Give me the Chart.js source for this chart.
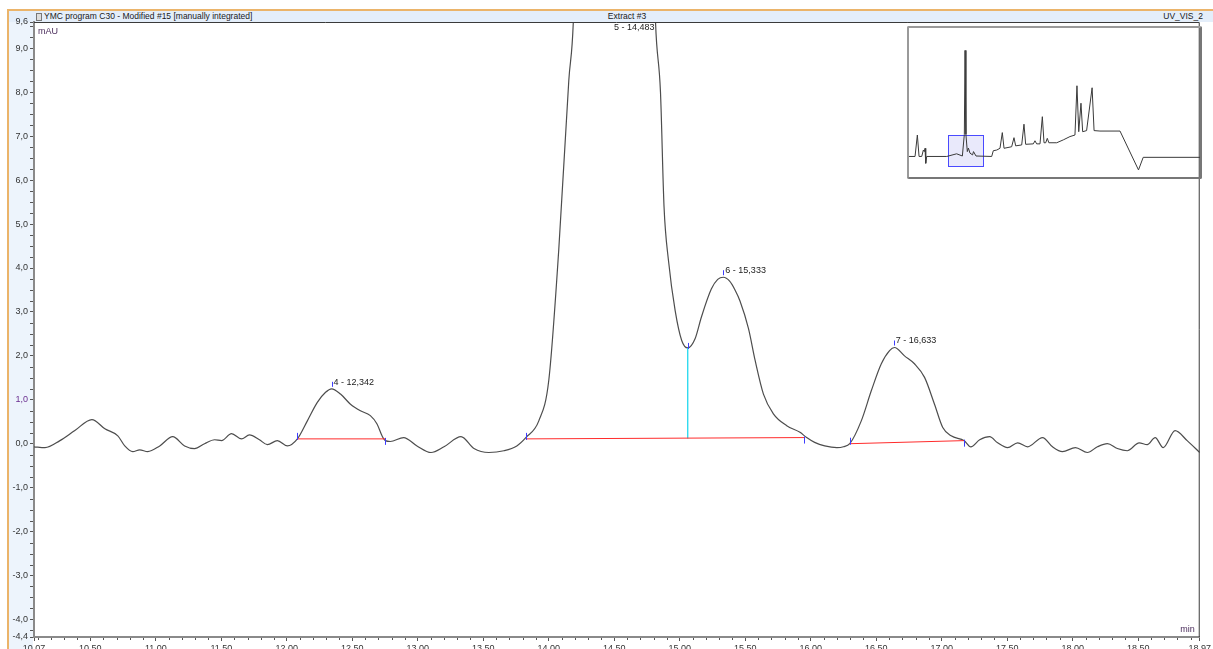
<!DOCTYPE html>
<html><head><meta charset="utf-8">
<script src="https://cdn.jsdelivr.net/npm/chart.js@4.4.1/dist/chart.umd.min.js"></script>
<style>
html,body{margin:0;padding:0;width:1213px;height:649px;overflow:hidden;background:#fff;font-family:"Liberation Sans",Arial,sans-serif;}
.abs{position:absolute;}
#orangeTop{left:7px;top:9px;width:1206px;height:2px;background:#ebb46a;}
#orangeLeft{left:7px;top:9px;width:2px;height:640px;background:#ebb46a;}
#header{left:9px;top:11px;width:1204px;height:11px;background:#e4eefa;}
#leftPanel{left:9px;top:22px;width:24px;height:627px;background:#edf4fc;}
.htxt{font-size:8.5px;line-height:11px;color:#1a1a1a;white-space:nowrap;top:11px;}
#icon{left:36px;top:13px;width:4px;height:6px;border:1px solid #777;background:#ddd;}
#main{left:0;top:0;}
#insetCv{left:908px;top:27px;}
#insetFrame{left:907px;top:26px;width:291px;height:149px;border:2px solid #9a9a9a;border-right-color:#777;border-bottom-color:#777;border-radius:2px;pointer-events:none;}
</style></head>
<body>
<div class="abs" id="orangeTop"></div>
<div class="abs" id="orangeLeft"></div>
<div class="abs" id="header"></div>
<div class="abs" id="leftPanel"></div>
<div class="abs" id="icon"></div>
<div class="abs htxt" style="left:44px;">YMC program C30 - Modified #15 [manually integrated]</div>
<div class="abs htxt" style="left:627px;transform:translateX(-50%);">Extract #3</div>
<div class="abs htxt" style="right:10px;">UV_VIS_2</div>
<canvas class="abs" id="main" width="1213" height="649"></canvas>
<canvas class="abs" id="insetCv" width="293" height="150"></canvas>
<div class="abs" id="insetFrame"></div>
<script>
// ---- main chromatogram (time in min, signal in mAU) ----
const rtMin = [
10.07,10.154,10.268,10.382,10.512,10.611,10.710,10.763,10.824,10.877,
10.938,11.030,11.129,11.220,11.296,11.372,11.449,11.502,11.578,11.654,
11.715,11.791,11.852,11.928,12.004,12.081,12.157,12.233,12.296,12.342,
12.410,12.486,12.562,12.638,12.689,12.727,12.752,12.790,12.892,12.994,
13.101,13.200,13.330,13.429,13.543,13.657,13.756,13.825,13.924,14.000,
14.076,14.153,14.19,14.25,14.32,14.40,14.483,14.56,14.65,14.74,
14.815,14.853,14.88,14.914,14.965,15.015,15.061,15.117,15.165,15.241,
15.290,15.333,15.381,15.422,15.460,15.525,15.576,15.639,15.715,15.817,
15.918,15.969,16.030,16.107,16.200,16.250,16.298,16.386,16.463,16.539,
16.602,16.640,16.716,16.792,16.869,16.945,17.008,17.072,17.172,17.222,
17.290,17.366,17.427,17.503,17.580,17.656,17.770,17.846,17.922,18.021,
18.112,18.189,18.265,18.341,18.417,18.508,18.569,18.630,18.691,18.782,
18.874,18.97];
const signalMAU = [
-0.07,-0.09,0.07,0.30,0.55,0.34,0.18,-0.05,-0.18,-0.14,
-0.18,-0.05,0.16,-0.05,-0.11,0.00,0.09,0.07,0.23,0.11,
0.20,0.09,-0.02,0.07,-0.05,0.11,0.52,0.94,1.17,1.25,
1.13,0.90,0.75,0.64,0.45,0.18,0.07,0.05,0.14,-0.05,
-0.20,-0.07,0.16,-0.11,-0.20,-0.16,-0.05,0.14,0.52,1.44,
4.40,8.27,9.8,18,30,42,48,44,32,18,
9.6,8.0,5.4,4.17,3.03,2.35,2.18,2.39,2.88,3.52,
3.74,3.79,3.70,3.50,3.25,2.62,1.89,1.13,0.68,0.41,
0.26,0.14,0.03,-0.05,-0.09,-0.07,0.00,0.52,1.21,1.82,
2.12,2.19,2.00,1.82,1.51,0.90,0.37,0.18,0.07,-0.07,
0.09,0.16,0.02,-0.09,0.02,-0.07,0.14,-0.07,-0.18,-0.09,
-0.20,-0.07,0.00,-0.11,-0.16,0.02,-0.02,0.14,-0.09,0.30,
0.07,-0.20];

// ---- peaks ----
const peakNumbers = [4, 5, 6, 7];
const peakRT = [12.342, 14.483, 15.333, 16.633];
const peakApex = [1.25, 48.0, 3.79, 2.19];
const baselineStartT = [12.081, 13.825, 16.298];
const baselineStartV = [0.11, 0.11, 0.00];
const baselineEndT = [12.752, 15.950, 17.168];
const baselineEndV = [0.11, 0.14, 0.07];
const dropT = [15.061];
const dropTopV = [2.18];
const dropBaseV = [0.12];

// ---- axes ----
const xMin = 10.07, xMax = 18.97;
const yMin = -4.4, yMax = 9.6;
const xTickValues = [10.07,10.5,11.0,11.5,12.0,12.5,13.0,13.5,14.0,14.5,15.0,15.5,16.0,16.5,17.0,17.5,18.0,18.5,18.97];
const yTickValues = [9.6,9,8,7,6,5,4,3,2,1,0,-1,-2,-3,-4,-4.4];

// ---- overview inset (full run) ----
const insetT = [0,1.76,2.35,2.78,3.46,3.88,4.13,4.31,4.48,4.73,9.82,12.34,13.8,14.3,14.48,14.7,15.06,15.33,15.74,16.4,16.63,17.27,21.26,21.67,22.54,23.37,23.96,24.4,26.34,26.93,27.36,28.89,29.47,29.9,31.85,32.27,32.7,33.55,34.14,34.57,35.0,35.4,35.8,37.8,39.47,41.17,42.44,42.95,43.4,43.97,44.4,45.4,46.8,47.3,48.8,53.9,58.6,59.8,74.6];
const insetV = [0,0,9.7,0,0,2.9,2.2,3.7,-3.1,0,0,1.2,0.2,10,48,10,2.2,3.8,1.5,0.7,2.2,0.2,0,2.6,2.9,3.7,10.8,3.7,4.4,8.5,4.8,5.2,14.6,5.5,5.7,7.1,5.7,5.7,18.0,6.2,6.2,8.2,6.2,6.2,7.5,9.0,9.7,32.0,11.2,24.1,11.2,11.7,31.1,11.7,11.5,11.5,-6.1,-0.4,-0.4];
const insetXRange = [-0.03, 74.5];
const insetYRange = [-9.3, 58.6];

Chart.defaults.font.family = '"Liberation Sans", Arial, sans-serif';
Chart.defaults.font.size = 9;

const fmt = (v, d) => v.toFixed(d).replace('.', ',');

const datasets = [];
baselineStartT.forEach((t, i) => {
  datasets.push({ data: [{x: t, y: baselineStartV[i]}, {x: baselineEndT[i], y: baselineEndV[i]}],
    borderColor: '#ff2b2b', borderWidth: 1, pointRadius: 0, tension: 0 });
});
dropT.forEach((t, i) => {
  datasets.push({ data: [{x: t, y: dropBaseV[i]}, {x: t, y: dropTopV[i]}],
    borderColor: '#22d8ee', borderWidth: 1.3, pointRadius: 0, tension: 0 });
});
datasets.push({ data: rtMin.map((t, i) => ({x: t, y: signalMAU[i]})),
  borderColor: '#4d4d4d', borderWidth: 1.2, pointRadius: 0, cubicInterpolationMode: 'monotone' });

const decor = {
  id: 'decor',
  afterDraw(chart) {
    const {ctx, chartArea: a, scales: {x, y}} = chart;
    ctx.save();
    ctx.strokeStyle = '#3a3a3a'; ctx.lineWidth = 1;
    ctx.beginPath();
    ctx.moveTo(a.left, a.top + 0.5); ctx.lineTo(a.right - 0.5, a.top + 0.5); ctx.lineTo(a.right - 0.5, a.bottom);
    ctx.stroke();
    ctx.strokeStyle = '#555';
    ctx.beginPath();
    for (let k = -17; k <= 38; k++) {
      if (k % 4 === 0) continue;
      const py = Math.round(y.getPixelForValue(k * 0.25)) + 0.5;
      ctx.moveTo(a.left - 4, py); ctx.lineTo(a.left - 1, py);
    }
    for (let k = 101; k <= 189; k++) {
      if (k % 5 === 0) continue;
      const px = Math.round(x.getPixelForValue(k / 10)) + 0.5;
      ctx.moveTo(px, a.bottom + 1); ctx.lineTo(px, a.bottom + 3);
    }
    ctx.stroke();
    ctx.beginPath(); ctx.rect(a.left, a.top, a.right - a.left, a.bottom - a.top); ctx.clip();
    ctx.strokeStyle = '#3d3dff'; ctx.lineWidth = 1;
    ctx.beginPath();
    baselineStartT.forEach((t, i) => {
      const px = Math.round(x.getPixelForValue(t)) + 0.5, py = y.getPixelForValue(baselineStartV[i]);
      ctx.moveTo(px, py - 6); ctx.lineTo(px, py + 1);
    });
    baselineEndT.forEach((t, i) => {
      const px = Math.round(x.getPixelForValue(t)) + 0.5, py = y.getPixelForValue(baselineEndV[i]);
      ctx.moveTo(px, py - 1); ctx.lineTo(px, py + 6);
    });
    dropT.forEach((t, i) => {
      const px = Math.round(x.getPixelForValue(t)) + 0.5, py = y.getPixelForValue(dropTopV[i]);
      ctx.moveTo(px, py - 5); ctx.lineTo(px, py + 1);
    });
    peakRT.forEach((t, i) => {
      const px = Math.round(x.getPixelForValue(t)) + 0.5, py = y.getPixelForValue(peakApex[i]);
      if (py > a.top + 8) { ctx.moveTo(px, py - 7); ctx.lineTo(px, py - 2); }
    });
    ctx.stroke();
    ctx.fillStyle = '#222';
    ctx.font = '9px "Liberation Sans", Arial, sans-serif';
    ctx.textAlign = 'left'; ctx.textBaseline = 'bottom';
    peakRT.forEach((t, i) => {
      const px = x.getPixelForValue(t), py = y.getPixelForValue(peakApex[i]);
      const ty = Math.max(py - 2, a.top + 10);
      ctx.fillText(peakNumbers[i] + ' - ' + fmt(t, 3), px + 2, ty);
    });
    ctx.fillStyle = '#4b2d5c';
    ctx.textBaseline = 'top';
    ctx.fillText('mAU', a.left + 4, a.top + 5);
    ctx.textAlign = 'right'; ctx.textBaseline = 'bottom';
    ctx.fillText('min', a.right - 5, a.bottom - 3);
    ctx.restore();
  }
};

new Chart(document.getElementById('main'), {
  type: 'line',
  data: { datasets },
  options: {
    responsive: false, animation: false, devicePixelRatio: 1,
    parsing: false, normalized: true,
    layout: { padding: { left: 9, right: 10, top: 22, bottom: 0 } },
    plugins: { legend: { display: false }, tooltip: { enabled: false } },
    scales: {
      x: {
        type: 'linear', min: xMin, max: xMax, position: 'bottom',
        afterBuildTicks: s => { s.ticks = xTickValues.map(v => ({value: v})); },
        afterFit: s => { s.height = 12; },
        ticks: { autoSkip: false, maxRotation: 0, padding: 2, color: '#333', callback: v => fmt(v, 2) },
        grid: { drawOnChartArea: false, drawTicks: true, tickLength: 4, tickColor: '#555' },
        border: { display: true, color: '#8a8a8a', width: 2 }
      },
      y: {
        type: 'linear', min: yMin, max: yMax, position: 'left',
        afterBuildTicks: s => { s.ticks = yTickValues.map(v => ({value: v})); },
        afterFit: s => { s.width = 25; },
        ticks: { autoSkip: false, padding: 2, color: c => (c.tick && c.tick.value === 1 ? '#6a2d8f' : '#333'), callback: v => fmt(v, 1) },
        grid: { drawOnChartArea: false, drawTicks: true, tickLength: 4, tickColor: '#555' },
        border: { display: true, color: '#8a8a8a', width: 2 }
      }
    }
  },
  plugins: [decor]
});

const zoomBox = {
  id: 'zoomBox',
  beforeDatasetsDraw(chart) {
    const {ctx, scales: {x, y}} = chart;
    const x0 = Math.round(x.getPixelForValue(xMin)) + 0.5, x1 = Math.round(x.getPixelForValue(xMax)) + 0.5;
    const y0 = Math.round(y.getPixelForValue(yMax)) + 0.5, y1 = Math.round(y.getPixelForValue(yMin)) + 0.5;
    ctx.save();
    ctx.fillStyle = 'rgba(225,225,250,0.75)';
    ctx.fillRect(x0, y0, x1 - x0, y1 - y0);
    ctx.strokeStyle = '#4a4aff'; ctx.lineWidth = 1;
    ctx.strokeRect(x0, y0, x1 - x0, y1 - y0);
    ctx.restore();
  }
};

new Chart(document.getElementById('insetCv'), {
  type: 'line',
  data: { datasets: [{ data: insetT.map((t, i) => ({x: t, y: insetV[i]})), borderColor: '#3a3a3a', borderWidth: 1, pointRadius: 0, tension: 0 }] },
  options: {
    responsive: false, animation: false, devicePixelRatio: 1, parsing: false,
    layout: { padding: 0 },
    plugins: { legend: { display: false }, tooltip: { enabled: false } },
    scales: {
      x: { type: 'linear', display: false, min: insetXRange[0], max: insetXRange[1] },
      y: { type: 'linear', display: false, min: insetYRange[0], max: insetYRange[1] }
    }
  },
  plugins: [zoomBox]
});
</script>
</body></html>
